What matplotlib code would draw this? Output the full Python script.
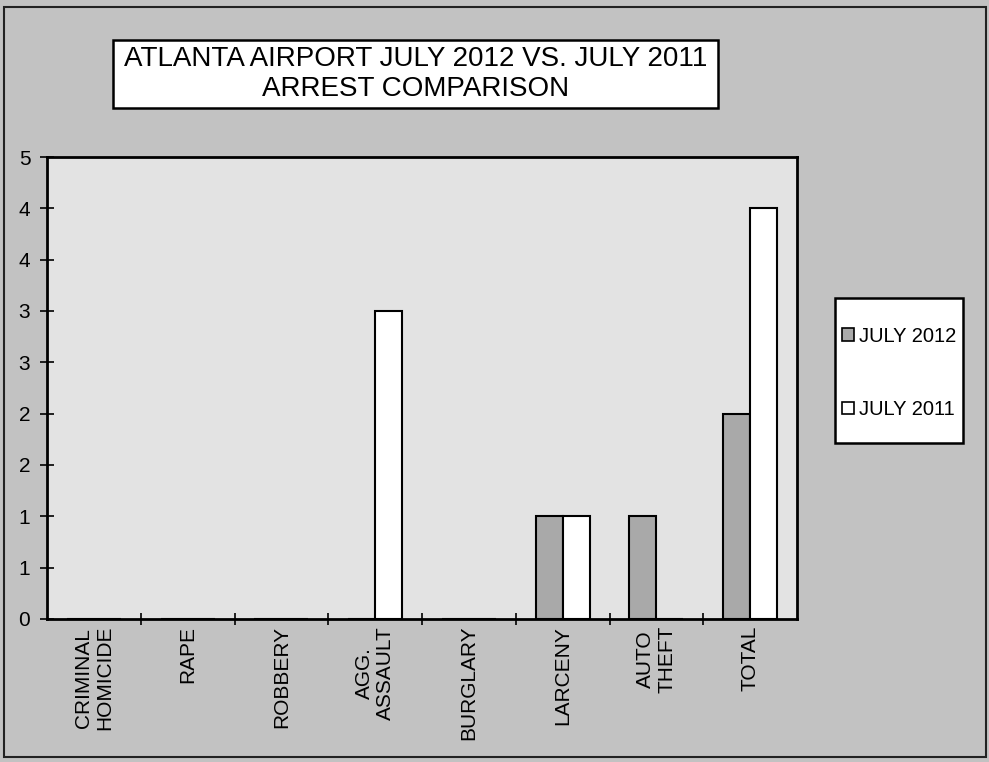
import matplotlib
matplotlib.use("Agg")
import matplotlib.pyplot as plt
from matplotlib.patches import Rectangle, Patch
from matplotlib.ticker import FixedLocator, FixedFormatter

categories = ["CRIMINAL\nHOMICIDE", "RAPE", "ROBBERY", "AGG.\nASSAULT",
              "BURGLARY", "LARCENY", "AUTO\nTHEFT", "TOTAL"]
july_2012 = [0, 0, 0, 0, 0, 1, 1, 2]
july_2011 = [0, 0, 0, 3, 0, 1, 0, 4]
series_labels = ["JULY 2012", "JULY 2011"]
y_ticks = [0, 0.5, 1, 1.5, 2, 2.5, 3, 3.5, 4, 4.5]
y_tick_labels = ["0", "1", "1", "2", "2", "3", "3", "4", "4", "5"]
title_lines = "ATLANTA AIRPORT JULY 2012 VS. JULY 2011\nARREST COMPARISON"

plt.rcParams['font.family'] = ['Liberation Sans', 'DejaVu Sans']

W, H = 989, 762
fig = plt.figure(figsize=(W / 100, H / 100), dpi=100)
fig_bg = "#c2c2c2"
fig.patch.set_facecolor(fig_bg)

def fx(px):
    return px / W

def fy(py):
    return 1 - py / H

# outer border
fig.patches.append(Rectangle((fx(4), fy(757)), fx(982), (753 - 3) / H,
                             transform=fig.transFigure, fill=False,
                             edgecolor="#222222", linewidth=1.5))

ax = fig.add_axes([fx(47), fy(619), fx(750), 462 / H])
ax.set_facecolor("#e3e3e3")

n = len(categories)
xs = list(range(n))
bw = 0.288
ax.bar([x - bw / 2 for x in xs], july_2012, width=bw, color="#a9a9a9",
       edgecolor="black", linewidth=1.5, zorder=3)
ax.bar([x + bw / 2 for x in xs], july_2011, width=bw, color="white",
       edgecolor="black", linewidth=1.5, zorder=3)

ax.set_xlim(-0.5, n - 0.5)
ax.set_ylim(0, 4.5)

ax.yaxis.set_major_locator(FixedLocator(y_ticks))
ax.yaxis.set_major_formatter(FixedFormatter(y_tick_labels))
ax.tick_params(axis='y', direction='inout', length=10, width=1.2,
               labelsize=15, pad=7)

ax.set_xticks(xs)
ax.set_xticklabels(categories, rotation=90, ha='center', va='top',
                   multialignment='center', fontsize=15, linespacing=1.15)
ax.tick_params(axis='x', length=0, pad=5)
ax.set_xticks([x + 0.5 for x in xs[:-1]], minor=True)
ax.tick_params(axis='x', which='minor', direction='inout', length=8, width=1.2)

for s in ax.spines.values():
    s.set_linewidth(2)
    s.set_color("black")

# title box
fig.patches.append(Rectangle((fx(113), fy(108)), fx(605), 68 / H,
                             transform=fig.transFigure, facecolor="white",
                             edgecolor="black", linewidth=1.8))
fig.text(fx(416), fy(74), title_lines, ha='center', va='center',
         fontsize=20, linespacing=1.15, color="black")

# legend box
fig.patches.append(Rectangle((fx(835), fy(443)), fx(128), 145 / H,
                             transform=fig.transFigure, facecolor="white",
                             edgecolor="black", linewidth=1.8))
handles = [Patch(facecolor="#a9a9a9", edgecolor="black", linewidth=1.2),
           Patch(facecolor="white", edgecolor="black", linewidth=1.2)]
fig.legend(handles, series_labels, loc='center',
           bbox_to_anchor=(fx(899), fy(373)), frameon=False,
           fontsize=14.5, handlelength=0.6, handleheight=0.6,
           handletextpad=0.25, labelspacing=2.7)

fig.savefig("out.png", dpi=100, facecolor=fig.get_facecolor())
